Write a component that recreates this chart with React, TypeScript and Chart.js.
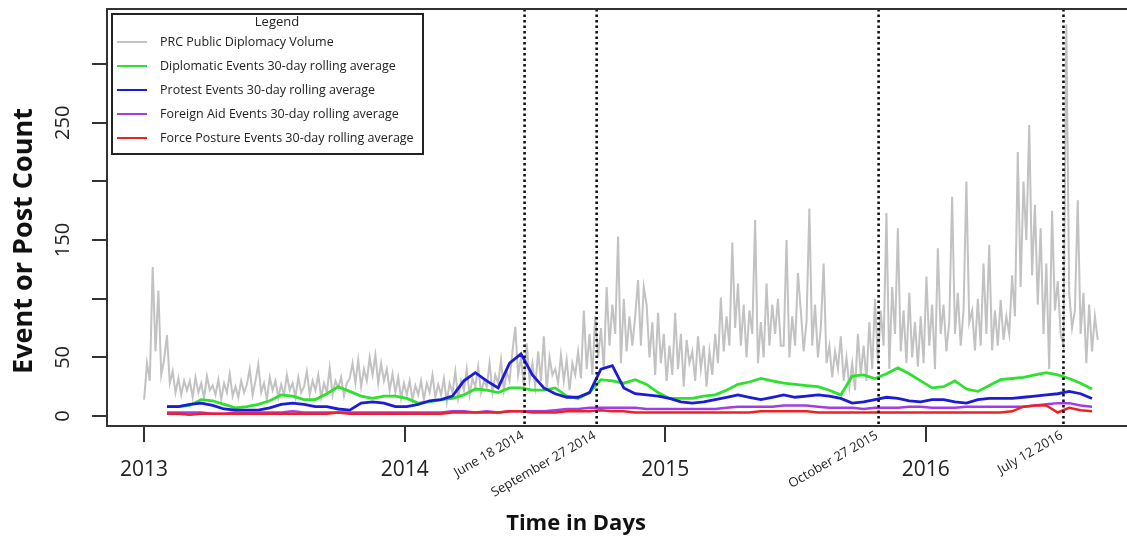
import React, { useEffect, useRef } from "react";
import { Chart, registerables } from "chart.js";

Chart.register(...registerables);

// ---- axis / annotation data ----
const yearTickDays = [0, 365, 730, 1095]; // days since 2013-01-01
const yearTickLabels = ["2013", "2014", "2015", "2016"];
const yTickValues = [0, 50, 100, 150, 200, 250, 300];
const yTickLabels = ["0", "50", "", "150", "", "250", ""];
const eventDays = [533, 634, 1029, 1288];
const eventLabels = ["June 18 2014", "September 27 2014", "October 27 2015", "July 12 2016"];
const xMinDay = -52;
const xMaxDay = 1377;
const yMin = -8.5;
const yMax = 347;

const seriesNames = [
  "PRC Public Diplomacy Volume",
  "Diplomatic Events 30-day rolling average",
  "Protest Events 30-day rolling average",
  "Foreign Aid Events 30-day rolling average",
  "Force Posture Events 30-day rolling average",
];
const seriesColors = ["#c2c2c2", "#2fe02f", "#1c1cd8", "#a23ce6", "#ee2222"];

// ---- daily volume (sampled every 4 days from 2013-01-01) ----
const volumeStartDay = 0;
const volumeStepDays = 4;
const volume = [
  14, 45, 30, 127, 55, 107, 35, 48,
  69, 28, 38, 20, 32, 18, 30, 22,
  30, 16, 33, 20, 28, 15, 34, 22,
  26, 18, 31, 14, 28, 20, 36, 17,
  25, 16, 30, 20, 27, 40, 18, 30,
  44, 20, 28, 14, 33, 22, 30, 16,
  27, 18, 35, 22, 28, 16, 33, 20,
  25, 38, 18, 30, 22, 35, 16, 28,
  20, 41, 18, 30, 24, 33, 17, 28,
  32, 45, 28, 48, 25, 40, 30, 50,
  35, 52, 28, 45, 30, 40, 22, 36,
  20, 33, 15, 28, 18, 30, 14, 26,
  18, 30, 14, 28, 20, 35, 16, 27,
  18, 32, 12, 28, 20, 38, 15, 30,
  22, 40, 18, 32, 25, 42, 20, 30,
  25, 45, 20, 35, 28, 48, 22, 38,
  30, 55, 76, 35, 50, 25, 62, 30,
  45, 25, 55, 30, 68, 22, 50, 35,
  40, 28, 52, 30, 48, 22, 45, 35,
  55, 32, 90, 40, 70, 35, 85, 50,
  75, 40, 110, 60, 95, 70, 153, 45,
  100, 55, 85, 60, 85, 116, 60, 110,
  95, 50, 80, 35, 88, 45, 70, 30,
  60, 35, 88, 40, 70, 25, 65, 45,
  55, 30, 68, 40, 60, 25, 55, 35,
  70, 45, 101, 55, 85, 60, 148, 75,
  113, 60, 95, 50, 90, 70, 167, 45,
  80, 50, 113, 60, 95, 70, 100, 60,
  60, 150, 50, 85, 60, 122, 90, 55,
  80, 177, 60, 95, 50, 75, 130, 45,
  60, 33, 55, 40, 68, 30, 50, 25,
  45, 22, 70, 35, 60, 30, 80, 40,
  100, 45, 90, 60, 173, 40, 110, 70,
  160, 55, 90, 45, 105, 50, 80, 42,
  85, 45, 119, 60, 95, 40, 143, 70,
  95, 55, 80, 187, 70, 105, 60, 90,
  200, 80, 90, 56, 100, 60, 130, 70,
  146, 56, 90, 60, 99, 65, 85, 70,
  120, 85, 225, 110, 200, 150, 248, 120,
  180, 95, 160, 70, 130, 40, 175, 90,
  115, 70, 60, 334, 105, 75, 90, 184,
  70, 105, 45, 95, 55, 85, 65,
];

// ---- 30-day rolling averages (sampled every 16 days) ----
const rollingStartDay = 32;
const rollingStepDays = 16;
const diplomatic = [
  8, 8, 9, 14, 13, 10, 7, 8, 10, 13, 18, 17, 14, 14, 19, 25, 21, 17, 15, 17, 17, 15, 11, 12,
  14, 15, 18, 23, 22, 20, 24, 24, 22, 22, 24, 17, 15, 20, 31, 30, 28, 31, 27, 20, 15, 15, 15, 17, 18,
  22, 27, 29, 32, 30, 28, 27, 26, 25, 22, 18, 34, 35, 32, 36, 41, 36, 30, 24, 25, 30, 23, 21,
  26, 31, 32, 33, 35, 37, 35, 32, 28, 23,
];
const protest = [
  8, 8, 10, 11, 9, 6, 5, 5, 5, 7, 10, 11, 10, 8, 8, 6, 5, 11, 12, 11, 8, 8, 10, 13,
  14, 17, 30, 37, 30, 24, 45, 53, 35, 24, 19, 16, 16, 20, 40, 43, 24, 19, 18, 17, 15, 12, 11, 12, 14,
  16, 18, 16, 14, 16, 18, 16, 17, 18, 17, 15, 11, 12, 14, 16, 15, 13, 12, 14, 14, 12, 11, 14,
  15, 15, 15, 16, 17, 18, 19, 21, 19, 15,
];
const foreignAid = [
  3, 3, 3, 3, 2, 2, 3, 3, 3, 3, 3, 4, 3, 3, 3, 3, 3, 3, 3, 3, 3, 3, 3, 3, 3, 4, 4, 3, 4, 3, 4,
  4, 4, 4, 5, 6, 6,
  7, 7, 7, 7, 7, 6, 6, 6, 6, 6, 6,
  6, 7, 8, 8, 8, 8, 9, 9, 9, 8,
  7, 7, 7, 6, 7, 7, 7, 8, 8, 7, 7, 7, 8, 8, 8, 8, 8, 8, 9,
  10, 11, 11, 9, 8,
];
const forcePosture = [
  2, 2, 1, 2, 2, 2, 2, 2, 2, 2, 2, 2, 2, 2, 2, 3, 2, 2, 2, 2, 2, 2, 2, 2, 2, 3, 3, 3, 3, 3,
  4, 4, 3, 3, 3, 4, 4, 4, 5, 4, 4,
  3, 3, 3, 3, 3, 3, 3, 3, 3, 3, 3, 4, 4, 4, 4, 4, 3, 3, 3, 3, 3, 3, 3, 3, 3, 3, 3, 3, 3, 3, 3, 3, 3, 4,
  8, 9, 9, 3, 7, 5, 4,
];

const FONT = '"Open Sans", "DejaVu Sans", sans-serif';

function toPoints(values: number[], start: number, step: number) {
  return values.map((v, i) => ({ x: start + i * step, y: v }));
}

const decorPlugin = {
  id: "decor",
  afterDatasetsDraw(chart: any) {
    const { ctx, chartArea: a, scales } = chart;
    const xs = scales.x;
    ctx.save();
    ctx.strokeStyle = "#111";
    ctx.lineWidth = 2.6;
    ctx.setLineDash([2.5, 3]);
    eventDays.forEach((d) => {
      const px = xs.getPixelForValue(d);
      ctx.beginPath();
      ctx.moveTo(px, a.top);
      ctx.lineTo(px, a.bottom);
      ctx.stroke();
    });
    ctx.restore();
  },
  afterDraw(chart: any) {
    const { ctx, chartArea: a, scales } = chart;
    const xs = scales.x;
    const ys = scales.y;
    ctx.save();
    // top border of the box
    ctx.strokeStyle = "#333";
    ctx.lineWidth = 2;
    ctx.beginPath();
    ctx.moveTo(a.left, a.top);
    ctx.lineTo(a.right, a.top);
    ctx.stroke();

    // rotated y tick labels
    ctx.fillStyle = "#222";
    ctx.font = `20px ${FONT}`;
    ctx.textAlign = "center";
    ctx.textBaseline = "middle";
    yTickValues.forEach((v, i) => {
      const lbl = yTickLabels[i];
      if (!lbl) return;
      ctx.save();
      ctx.translate(a.left - 44, ys.getPixelForValue(v));
      ctx.rotate(-Math.PI / 2);
      ctx.fillText(lbl, 0, 0);
      ctx.restore();
    });

    // event date labels
    ctx.font = `13px ${FONT}`;
    ctx.textAlign = "right";
    ctx.textBaseline = "top";
    eventDays.forEach((d, i) => {
      const px = xs.getPixelForValue(d);
      ctx.save();
      ctx.translate(px - 5, a.bottom + 3);
      ctx.rotate((-30 * Math.PI) / 180);
      ctx.fillText(eventLabels[i], 0, 0);
      ctx.restore();
    });

    // axis titles
    ctx.fillStyle = "#111";
    ctx.font = `bold 27px ${FONT}`;
    ctx.textAlign = "center";
    ctx.textBaseline = "middle";
    ctx.save();
    ctx.translate(24, 241);
    ctx.rotate(-Math.PI / 2);
    ctx.fillText("Event or Post Count", 0, 0);
    ctx.restore();
    ctx.font = `bold 22px ${FONT}`;
    ctx.fillText("Time in Days", 576, 524);

    // legend
    const lx = a.left + 5;
    const ly = a.top + 5;
    ctx.fillStyle = "#fff";
    ctx.fillRect(lx, ly, 311, 140);
    ctx.strokeStyle = "#222";
    ctx.lineWidth = 2;
    ctx.strokeRect(lx, ly, 311, 140);
    ctx.fillStyle = "#222";
    ctx.font = `13px ${FONT}`;
    ctx.textAlign = "center";
    ctx.fillText("Legend", lx + 165, ly + 8);
    ctx.font = `12.5px ${FONT}`;
    ctx.textAlign = "left";
    seriesNames.forEach((name, i) => {
      const ry = ly + 28 + i * 24;
      ctx.strokeStyle = seriesColors[i];
      ctx.lineWidth = 2;
      ctx.beginPath();
      ctx.moveTo(lx + 5, ry);
      ctx.lineTo(lx + 35, ry);
      ctx.stroke();
      ctx.fillStyle = "#222";
      ctx.fillText(name, lx + 48, ry);
    });
    ctx.restore();
  },
};

export default function App() {
  const ref = useRef<HTMLCanvasElement>(null);
  useEffect(() => {
    document.body.style.margin = "0";
    const lineSets = [
      { data: toPoints(volume, volumeStartDay, volumeStepDays), width: 2, order: 5 },
      { data: toPoints(diplomatic, rollingStartDay, rollingStepDays), width: 2.8, order: 4 },
      { data: toPoints(protest, rollingStartDay, rollingStepDays), width: 2.8, order: 3 },
      { data: toPoints(foreignAid, rollingStartDay, rollingStepDays), width: 2.5, order: 2 },
      { data: toPoints(forcePosture, rollingStartDay, rollingStepDays), width: 2.5, order: 1 },
    ];
    const chart = new Chart(ref.current as HTMLCanvasElement, {
      type: "line",
      data: {
        datasets: lineSets.map((s, i) => ({
          label: seriesNames[i],
          data: s.data,
          borderColor: seriesColors[i],
          backgroundColor: seriesColors[i],
          borderWidth: s.width,
          pointRadius: 0,
          tension: 0,
          fill: false,
          order: s.order,
        })),
      },
      options: {
        animation: false,
        responsive: true,
        maintainAspectRatio: false,
        layout: { padding: { top: 9, left: 0, right: 0, bottom: 0 } },
        plugins: { legend: { display: false }, tooltip: { enabled: false } },
        scales: {
          x: {
            type: "linear",
            min: xMinDay,
            max: xMaxDay,
            afterBuildTicks: (scale: any) => {
              scale.ticks = yearTickDays.map((v) => ({ value: v }));
            },
            afterFit: (scale: any) => {
              scale.height = 116;
            },
            grid: { drawOnChartArea: false, drawTicks: true, tickLength: 16, color: "#333", lineWidth: 2 },
            border: { display: true, color: "#333", width: 2 },
            ticks: {
              autoSkip: false,
              maxRotation: 0,
              padding: 15,
              color: "#222",
              font: { family: FONT, size: 21 },
              callback: (v: any) => {
                const k = yearTickDays.indexOf(Number(v));
                return k >= 0 ? yearTickLabels[k] : "";
              },
            },
          },
          y: {
            type: "linear",
            min: yMin,
            max: yMax,
            afterBuildTicks: (scale: any) => {
              scale.ticks = yTickValues.map((v) => ({ value: v }));
            },
            afterFit: (scale: any) => {
              scale.width = 107;
            },
            grid: { drawOnChartArea: false, drawTicks: true, tickLength: 15, color: "#333", lineWidth: 2 },
            border: { display: true, color: "#333", width: 2 },
            ticks: { display: false },
          },
        },
      },
      plugins: [decorPlugin],
    } as any);
    return () => chart.destroy();
  }, []);
  return (
    <div style={{ position: "fixed", left: 0, top: 0, width: 1127, height: 542, background: "#fff" }}>
      <canvas ref={ref} />
    </div>
  );
}
